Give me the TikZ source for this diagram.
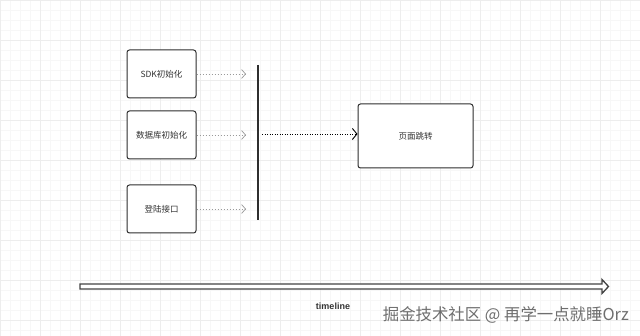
\documentclass[tikz,border=0pt]{standalone}
\usepackage{fontspec}
\setmainfont{Noto Sans CJK SC}
\newfontfamily\latinsans{Liberation Sans}
\usetikzlibrary{arrows.meta}
\definecolor{boxline}{HTML}{2E2E2E}
\definecolor{txt}{HTML}{333333}
\definecolor{dashgray}{HTML}{9A9A9A}
\definecolor{wm}{HTML}{6E6E6E}
\begin{document}
\begin{tikzpicture}[x=1pt,y=-1pt,
  box/.style={draw=boxline,line width=1pt,rounded corners=2.5pt,fill=white,inner sep=0pt,font=\fontsize{8.5}{10}\selectfont,text=txt},
  feed/.style={draw=dashgray,line width=0.6pt,dash pattern=on 1.5pt off 1.5pt,-{Straight Barb[length=4pt,width=9pt,line width=0.7pt]}},
  go/.style={draw=black,line width=0.8pt,dash pattern=on 1pt off 1.5pt,-{Straight Barb[length=4.5pt,width=11pt,line width=0.9pt]}}]
\useasboundingbox (0,0) rectangle (640,336);
\fill[white] (0,0) rectangle (640,336);
% faint grid
\foreach \x in {0,10,...,640} \draw[black!3,line width=0.5pt] (\x,0) -- (\x,336);
\foreach \y in {0,10,...,336} \draw[black!3,line width=0.5pt] (0,\y) -- (640,\y);
\foreach \x in {0,40,...,640} \draw[black!7,line width=0.6pt] (\x,0) -- (\x,336);
\foreach \y in {0,40,...,336} \draw[black!7,line width=0.6pt] (0,\y) -- (640,\y);

\node[box,minimum width=69pt,minimum height=48pt] (sdk) at (161.5,74) {SDK初始化};
\node[box,minimum width=69pt,minimum height=48pt] (db) at (161.5,135) {数据库初始化};
\node[box,minimum width=69pt,minimum height=48pt] (login) at (161.5,209) {登陆接口};
\node[box,minimum width=115pt,minimum height=64pt] (page) at (415.5,136) {页面跳转};

\coordinate (vtop) at (258,65);
\coordinate (vbot) at (258,220);
\draw[boxline,line width=1.6pt] (vtop) -- (vbot);

\coordinate (e1) at (246,74);
\coordinate (e2) at (246,135);
\coordinate (e3) at (246,209);
\draw[feed] (sdk.east) -- (e1);
\draw[feed] (db.east) -- (e2);
\draw[feed] (login.east) -- (e3);

\coordinate (gs) at (262,134);
\draw[go] (gs) -- (gs -| page.west);

% timeline arrow
\draw[draw=boxline!90,line width=1.3pt,fill=white,line join=miter]
  (80,284) -- (602,284) -- (602,279.5) -- (608.5,286.5) -- (602,293.5) -- (602,289) -- (80,289) -- cycle;
\node[font=\latinsans\bfseries\fontsize{9}{10}\selectfont,text=txt] (tl) at (333,306) {timeline};
\node[font=\fontsize{16.4}{18}\selectfont,text=wm,anchor=east,inner sep=0pt] (wmk) at (629,315) {掘金技术社区 @ 再学一点就睡Orz};
\end{tikzpicture}
\end{document}
